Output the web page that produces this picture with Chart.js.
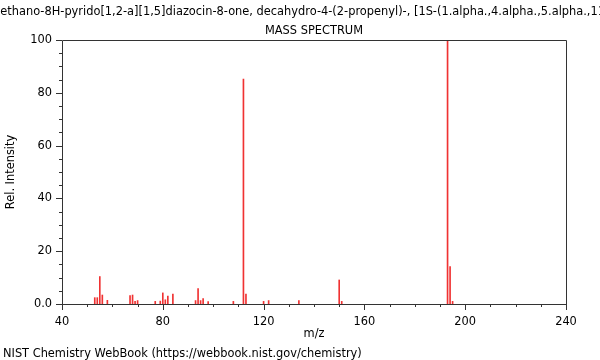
<!DOCTYPE html>
<html>
<head>
<meta charset="utf-8">
<script src="https://cdn.jsdelivr.net/npm/chart.js@4.4.1/dist/chart.umd.min.js"></script>
<style>
  body { margin: 0; background: #fff; }
  #wrap { position: relative; width: 600px; height: 360px; overflow: hidden; font-family: 'DejaVu Sans', sans-serif; color: #000; }
  #chart { position: absolute; left: 0; top: 0; }
  .txt { position: absolute; white-space: nowrap; font-size: 11.4px; line-height: 13px; }
  #title { top: 5px; left: 316px; transform: translateX(-50%); }
  #sub { top: 24px; left: 314px; transform: translateX(-50%); }
  #foot { top: 347px; left: 3px; }
</style>
</head>
<body>
<div id="wrap">
  <canvas id="chart" width="600" height="360"></canvas>
  <div class="txt" id="title">1,5-Methano-8H-pyrido[1,2-a][1,5]diazocin-8-one, decahydro-4-(2-propenyl)-, [1S-(1.alpha.,4.alpha.,5.alpha.,11a.alpha.)]-</div>
  <div class="txt" id="sub">MASS SPECTRUM</div>
  <div class="txt" id="foot">NIST Chemistry WebBook (https://webbook.nist.gov/chemistry)</div>
</div>
<script>
const mz = [53, 54, 55, 56, 58, 67, 68, 69, 70, 77, 79, 80, 81, 82, 84, 93, 94, 95, 96, 98, 108, 112, 113, 120, 122, 134, 150, 151, 193, 194, 195];
const intensity = [2.4, 2.4, 10.4, 3.4, 1.4, 3.2, 3.4, 1.0, 1.3, 1.0, 1.1, 4.2, 1.6, 3.0, 3.8, 1.3, 5.8, 1.3, 2.1, 0.9, 1.0, 85.2, 3.8, 1.0, 1.3, 1.3, 9.1, 1.0, 100, 14.2, 1.0];
const xTicks = [40, 80, 120, 160, 200, 240];
const yTicks = [0, 20, 40, 60, 80, 100];

Chart.defaults.font.family = "'DejaVu Sans', sans-serif";
Chart.defaults.font.size = 11.4;
Chart.defaults.color = '#000';

// frame round the plot plus major/minor tick marks
const axisMarks = {
  id: 'axisMarks',
  afterDraw(chart) {
    const ctx = chart.ctx;
    const a = chart.chartArea;
    const x = chart.scales.x, y = chart.scales.y;
    ctx.save();
    ctx.strokeStyle = '#333';
    ctx.lineWidth = 1;
    ctx.beginPath();
    ctx.rect(Math.round(a.left) + 0.5, Math.round(a.top) + 0.5, Math.round(a.right - a.left), Math.round(a.bottom - a.top));
    for (let v = 40; v <= 240; v += 10) {
      const px = Math.round(x.getPixelForValue(v)) + 0.5;
      const len = xTicks.includes(v) ? 6 : 3;
      ctx.moveTo(px, Math.round(a.bottom));
      ctx.lineTo(px, Math.round(a.bottom) + len);
    }
    for (let v = 0; v <= 100; v += 5) {
      const py = Math.round(y.getPixelForValue(v)) + 0.5;
      const len = yTicks.includes(v) ? 6 : 3;
      ctx.moveTo(Math.round(a.left), py);
      ctx.lineTo(Math.round(a.left) - len, py);
    }
    ctx.stroke();
    ctx.restore();
  }
};

new Chart(document.getElementById('chart'), {
  type: 'bar',
  data: {
    datasets: [{
      data: mz.map((m, i) => ({ x: m, y: intensity[i] })),
      backgroundColor: 'rgb(240, 50, 50)',
      barThickness: 1,
      borderWidth: 0
    }]
  },
  options: {
    responsive: false,
    animation: false,
    layout: { padding: { left: 0, right: 34, top: 40, bottom: 0 } },
    plugins: { legend: { display: false }, tooltip: { enabled: false } },
    scales: {
      x: {
        type: 'linear',
        offset: false,
        min: 40,
        max: 240,
        afterFit: s => { s.height = 56; },
        afterBuildTicks: s => { s.ticks = xTicks.map(v => ({ value: v })); },
        grid: { display: false, offset: false },
        border: { display: false },
        ticks: { padding: 3, maxRotation: 0, autoSkip: false },
        title: { display: true, text: 'm/z', padding: { top: 0, bottom: 19 } }
      },
      y: {
        min: 0,
        max: 100,
        afterFit: s => { s.width = 62; },
        afterBuildTicks: s => { s.ticks = yTicks.map(v => ({ value: v })); },
        grid: { display: false },
        border: { display: false },
        ticks: { padding: 2, callback: v => v === 0 ? '0.0' : v },
        title: { display: true, text: 'Rel. Intensity', padding: { top: 4, bottom: 0 } }
      }
    }
  },
  plugins: [axisMarks]
});
</script>
</body>
</html>
